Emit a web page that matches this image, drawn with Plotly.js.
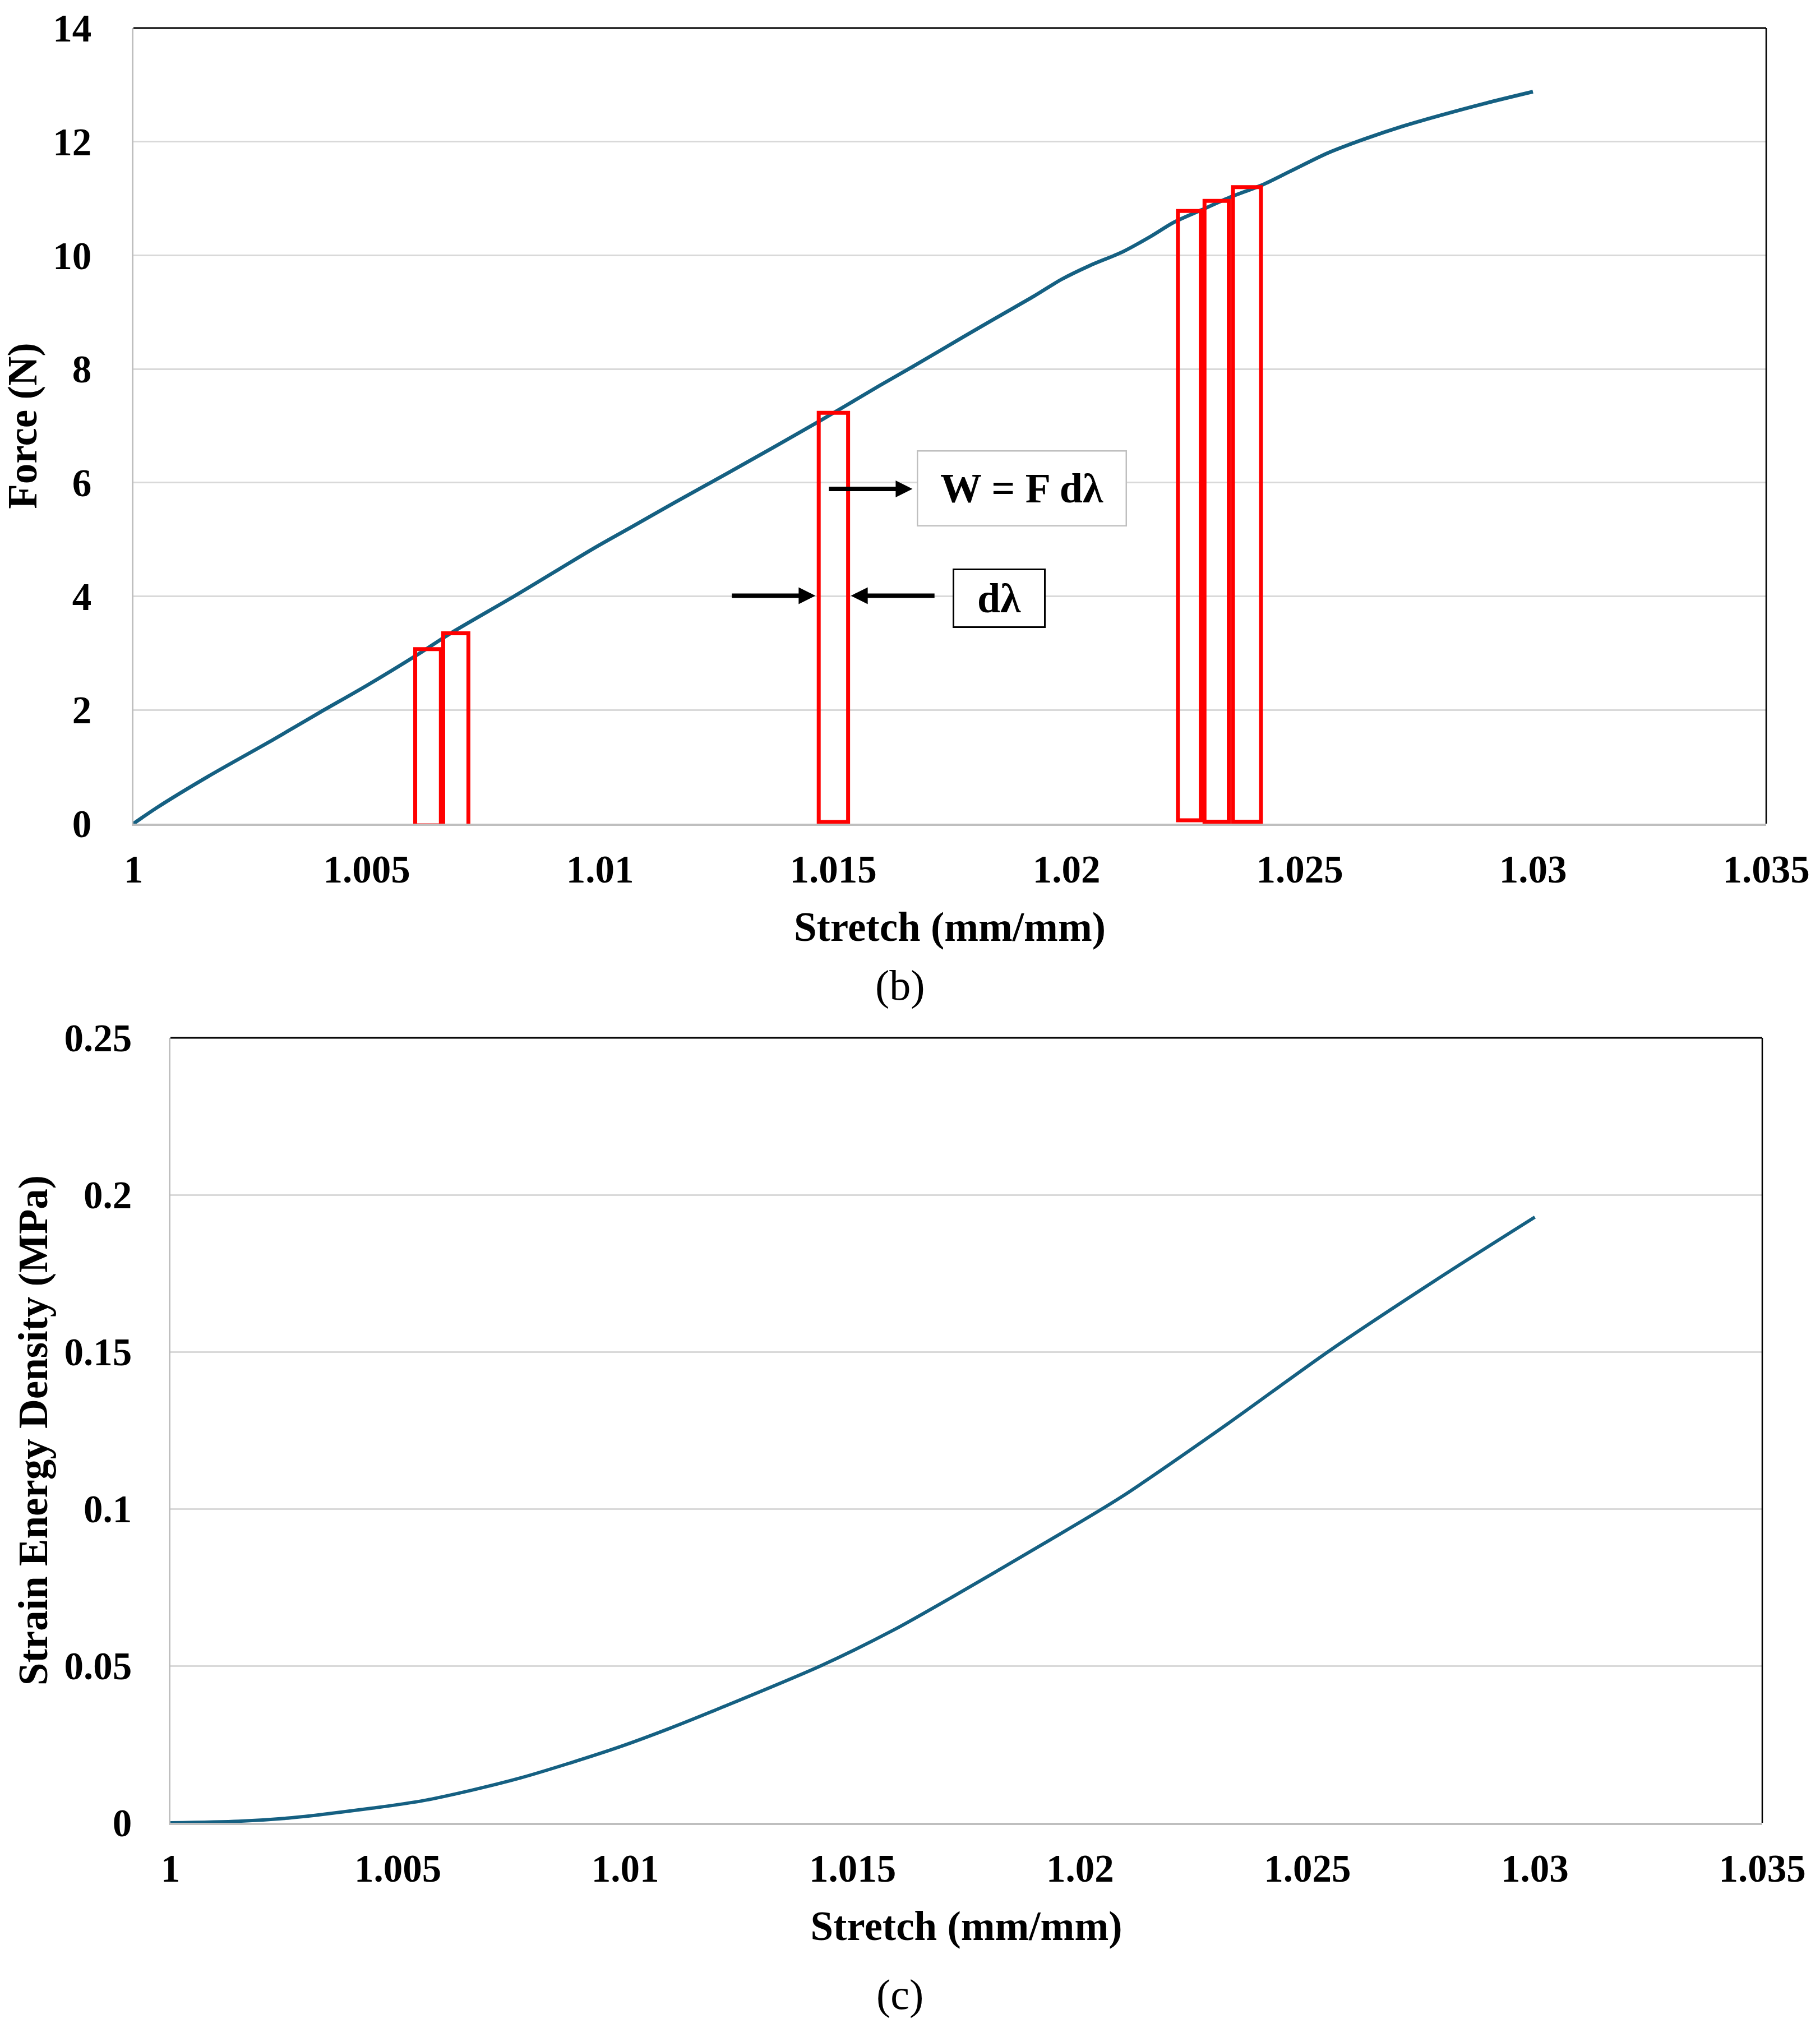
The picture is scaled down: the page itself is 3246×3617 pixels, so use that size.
<!DOCTYPE html>
<html>
<head>
<meta charset="utf-8">
<script src="https://cdn.plot.ly/plotly-3.0.1.min.js"></script>
<style>
html,body{margin:0;padding:0;background:#ffffff;}
#chart{width:3246px;height:3617px;}
</style>
</head>
<body>
<div id="chart"></div>
<script>
// ---------- data ----------
const forceStretch = [1.0000, 1.0005, 1.0016, 1.0030, 1.0040, 1.0050, 1.0061, 1.0068, 1.0082, 1.0099,
  1.0107, 1.0116, 1.0127, 1.0147, 1.0160, 1.0167, 1.0178, 1.0186, 1.0193, 1.0199,
  1.0205, 1.0212, 1.0218, 1.0223, 1.0229, 1.0235, 1.0242, 1.0248, 1.0256, 1.0264,
  1.0272, 1.0280, 1.0290, 1.0300];
const forceValues = [0, 0.28, 0.83, 1.48, 1.96, 2.43, 2.98, 3.35, 4.02, 4.86,
  5.23, 5.65, 6.15, 7.08, 7.71, 8.04, 8.57, 8.95, 9.28, 9.58,
  9.82, 10.06, 10.33, 10.58, 10.80, 11.02, 11.24, 11.48, 11.80, 12.05,
  12.27, 12.46, 12.68, 12.88];

const sedStretch = [1.0000, 1.0015, 1.0025, 1.0033, 1.0044, 1.0055, 1.0066, 1.0077, 1.0088, 1.0099,
  1.0110, 1.0121, 1.0143, 1.0159, 1.0172, 1.0192, 1.0209, 1.0232, 1.0255, 1.0280, 1.0300];
const sedValues = [0, 0.0005, 0.0014, 0.0026, 0.0046, 0.0069, 0.0103, 0.0143, 0.0191, 0.0243,
  0.0302, 0.0366, 0.0500, 0.0614, 0.0720, 0.0889, 0.1037, 0.1266, 0.1505, 0.1745, 0.1929];

const xTickVals = [1, 1.005, 1.01, 1.015, 1.02, 1.025, 1.03, 1.035];
const xTickText = ['1', '1.005', '1.01', '1.015', '1.02', '1.025', '1.03', '1.035'];
const forceTickVals = [0, 2, 4, 6, 8, 10, 12, 14];
const forceTickText = ['0', '2', '4', '6', '8', '10', '12', '14'];
const sedTickVals = [0, 0.05, 0.1, 0.15, 0.2, 0.25];
const sedTickText = ['0', '0.05', '0.1', '0.15', '0.2', '0.25'];

// red strips (F dλ elements) on the force curve
const stripLeft   = [1.00604, 1.00664, 1.01469, 1.02239, 1.02296, 1.02357];
const stripRight  = [1.00659, 1.00718, 1.01532, 1.02288, 1.02348, 1.02417];
const stripTop    = [3.07, 3.35, 7.23, 10.78, 10.96, 11.20];
const stripBottom = [-0.03, -0.065, 0.03, 0.06, 0.035, 0.035];

// annotation texts
const workLabel = 'W = F dλ';
const dLambdaLabel = 'dλ';
const captions = ['(b)', '(c)'];

// ---------- styling ----------
const SERIF = '"Liberation Serif", "Times New Roman", Times, serif';
const CURVE = '#156082';
const GRID = '#D9D9D9';
const AXIS = '#BFBFBF';
const W = 3246, H = 3617;

const tickFont = {family: SERIF, size: 69, color: '#000000', weight: 'bold'};
const titleFont = {family: SERIF, size: 73, color: '#000000', weight: 'bold'};

function xAxis(domain, anchor) {
  return {
    domain: domain, anchor: anchor, range: [1, 1.035], autorange: false,
    tickmode: 'array', tickvals: xTickVals, ticktext: xTickText,
    ticks: '', ticklabelstandoff: 18, tickfont: tickFont,
    showgrid: false, zeroline: false,
    showline: true, linecolor: AXIS, linewidth: 4,
    title: {text: 'Stretch (mm/mm)', font: titleFont, standoff: 40},
    automargin: false
  };
}
function yAxis(domain, anchor, range, vals, text, standoff) {
  return {
    domain: domain, anchor: anchor, range: range, autorange: false,
    tickmode: 'array', tickvals: vals, ticktext: text,
    ticks: '', ticklabelstandoff: standoff, tickfont: tickFont,
    showgrid: true, gridcolor: GRID, gridwidth: 3, zeroline: false,
    showline: true, linecolor: AXIS, linewidth: 3,
    automargin: false
  };
}

const topX = [238 / W, 3150 / W];
const topY = [1 - 1469 / H, 1 - 50 / H];
const botX = [304 / W, 3143 / W];
const botY = [1 - 3251 / H, 1 - 1851 / H];

const traces = [
  {x: forceStretch, y: forceValues, type: 'scatter', mode: 'lines', xaxis: 'x', yaxis: 'y',
   line: {color: CURVE, width: 6.5, shape: 'spline', smoothing: 0.8}, hoverinfo: 'skip', showlegend: false},
  {x: sedStretch, y: sedValues, type: 'scatter', mode: 'lines', xaxis: 'x2', yaxis: 'y2',
   line: {color: CURVE, width: 6, shape: 'spline', smoothing: 0.8}, hoverinfo: 'skip', showlegend: false}
];

const shapes = [];
// top and right black frame lines on both plots
[['x', 'y'], ['x2', 'y2']].forEach(function (p) {
  shapes.push({type: 'line', xref: p[0] + ' domain', yref: p[1] + ' domain', x0: 0, x1: 1, y0: 1, y1: 1,
    line: {color: '#000000', width: 3}, layer: 'above'});
  shapes.push({type: 'line', xref: p[0] + ' domain', yref: p[1] + ' domain', x0: 1, x1: 1, y0: 0, y1: 1,
    line: {color: '#000000', width: 2.5}, layer: 'above'});
});
for (let i = 0; i < stripLeft.length; i++) {
  shapes.push({type: 'rect', xref: 'x', yref: 'y', x0: stripLeft[i], x1: stripRight[i],
    y0: stripBottom[i], y1: stripTop[i], line: {color: '#FF0000', width: 7},
    fillcolor: 'rgba(0,0,0,0)', layer: 'above'});
}

const annFont = {family: SERIF, size: 74, color: '#000000', weight: 'bold'};
const annotations = [
  // W = F dλ box
  {xref: 'x', yref: 'y', x: 1.01905, y: 5.90, text: workLabel, showarrow: false,
   font: annFont, bgcolor: '#ffffff', bordercolor: '#BFBFBF', borderwidth: 2.5, borderpad: 0,
   width: 370, height: 131, align: 'center', valign: 'middle'},
  // dλ box
  {xref: 'x', yref: 'y', x: 1.01856, y: 3.97, text: dLambdaLabel, showarrow: false,
   font: annFont, bgcolor: '#ffffff', bordercolor: '#000000', borderwidth: 3, borderpad: 0,
   width: 160, height: 100, align: 'center', valign: 'middle'},
  // arrow to W box
  {xref: 'x', yref: 'y', axref: 'x', ayref: 'y', x: 1.01670, y: 5.89, ax: 1.01489, ay: 5.89,
   text: '', showarrow: true, arrowhead: 2, arrowsize: 0.75, arrowwidth: 8, arrowcolor: '#000000', standoff: 0},
  // dλ arrows
  {xref: 'x', yref: 'y', axref: 'x', ayref: 'y', x: 1.01462, y: 4.01, ax: 1.01281, ay: 4.01,
   text: '', showarrow: true, arrowhead: 2, arrowsize: 0.75, arrowwidth: 8, arrowcolor: '#000000', standoff: 0},
  {xref: 'x', yref: 'y', axref: 'x', ayref: 'y', x: 1.01538, y: 4.01, ax: 1.01719, ay: 4.01,
   text: '', showarrow: true, arrowhead: 2, arrowsize: 0.75, arrowwidth: 8, arrowcolor: '#000000', standoff: 0},
  // captions
  {xref: 'paper', yref: 'paper', x: 1605 / W, y: 1 - 1757 / H, text: captions[0], showarrow: false,
   font: {family: SERIF, size: 76, color: '#000000'}, xanchor: 'center', yanchor: 'middle'},
  {xref: 'paper', yref: 'paper', x: 1605 / W, y: 1 - 3557 / H, text: captions[1], showarrow: false,
   font: {family: SERIF, size: 76, color: '#000000'}, xanchor: 'center', yanchor: 'middle'}
];

const ax1 = xAxis(topX, 'y');
const ax2 = xAxis(botX, 'y2');
const ay1 = yAxis(topY, 'x', [0, 14], forceTickVals, forceTickText, 58);
ay1.title = {text: 'Force (N)', font: titleFont, standoff: 18};
const ay2 = yAxis(botY, 'x2', [0, 0.25], sedTickVals, sedTickText, 52);
ay2.title = {text: 'Strain Energy Density (MPa)', font: titleFont, standoff: 6};

const layout = {
  width: W, height: H,
  margin: {l: 0, r: 0, t: 0, b: 0, pad: 0},
  paper_bgcolor: '#ffffff', plot_bgcolor: '#ffffff',
  showlegend: false,
  xaxis: ax1, yaxis: ay1, xaxis2: ax2, yaxis2: ay2,
  shapes: shapes, annotations: annotations,
  font: {family: SERIF, color: '#000000'}
};

Plotly.newPlot('chart', traces, layout, {displayModeBar: false, staticPlot: true});
</script>
</body>
</html>
